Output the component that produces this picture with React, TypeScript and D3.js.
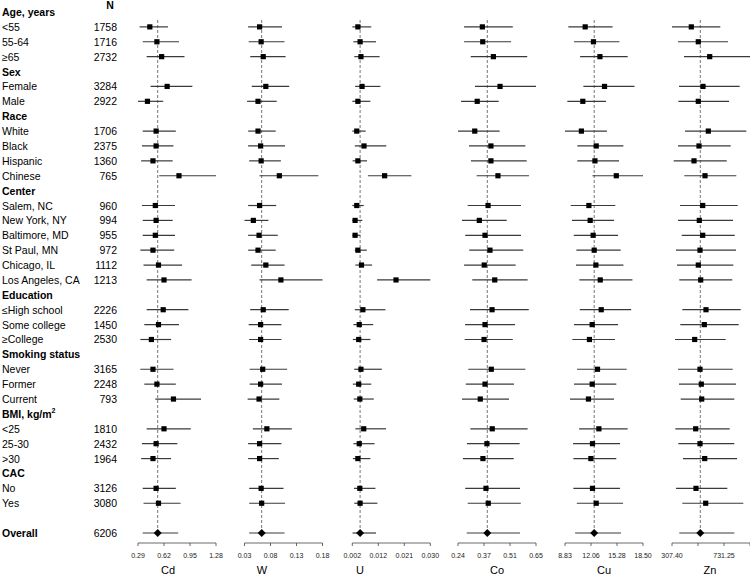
import React from "react";
import * as d3 from "d3";

// row labels, top to bottom ("" = spacer row)
const rowLabels = [
  "Age, years", "<55", "55-64", "≥65",
  "Sex", "Female", "Male",
  "Race", "White", "Black", "Hispanic", "Chinese",
  "Center", "Salem, NC", "New York, NY", "Baltimore, MD", "St Paul, MN", "Chicago, IL", "Los Angeles, CA",
  "Education", "≤High school", "Some college", "≥College",
  "Smoking status", "Never", "Former", "Current",
  "BMI, kg/m2", "<25", "25-30", ">30",
  "CAC", "No", "Yes",
  "", "Overall",
];

const headers = ["Age, years", "Sex", "Race", "Center", "Education", "Smoking status", "BMI, kg/m2", "CAC", "Overall"];

const counts = [
  null, 1758, 1716, 2732,
  null, 3284, 2922,
  null, 1706, 2375, 1360, 765,
  null, 960, 994, 955, 972, 1112, 1213,
  null, 2226, 1450, 2530,
  null, 3165, 2248, 793,
  null, 1810, 2432, 1964,
  null, 3126, 3080,
  null, 6206,
];

const metals = ["Cd", "W", "U", "Co", "Cu", "Zn"];

// estimate / lower / upper for the 26 subgroups, in row order
const cdEst = [0.44, 0.53, 0.59, 0.66, 0.41, 0.52, 0.52, 0.48, 0.81, 0.51, 0.52, 0.51, 0.48, 0.55, 0.62, 0.61, 0.55, 0.46, 0.48, 0.53, 0.74, 0.62, 0.52, 0.48, 0.52, 0.55];
const cdLo = [0.31, 0.35, 0.40, 0.45, 0.29, 0.35, 0.34, 0.33, 0.56, 0.34, 0.35, 0.35, 0.32, 0.36, 0.40, 0.40, 0.37, 0.32, 0.32, 0.37, 0.51, 0.40, 0.34, 0.33, 0.35, 0.36];
const cdHi = [0.67, 0.81, 0.88, 0.98, 0.61, 0.77, 0.74, 0.73, 1.28, 0.76, 0.73, 0.76, 0.75, 0.85, 0.97, 0.93, 0.81, 0.71, 0.74, 0.77, 1.09, 0.96, 0.79, 0.71, 0.77, 0.83];

const wEst = [0.059, 0.062, 0.066, 0.071, 0.056, 0.056, 0.061, 0.062, 0.097, 0.059, 0.047, 0.058, 0.056, 0.071, 0.100, 0.066, 0.061, 0.061, 0.065, 0.061, 0.058, 0.073, 0.059, 0.059, 0.062, 0.063];
const wLo = [0.037, 0.038, 0.041, 0.044, 0.035, 0.037, 0.037, 0.039, 0.059, 0.037, 0.030, 0.037, 0.037, 0.043, 0.059, 0.041, 0.038, 0.039, 0.040, 0.040, 0.036, 0.046, 0.037, 0.037, 0.039, 0.039];
const wHi = [0.102, 0.107, 0.109, 0.116, 0.092, 0.090, 0.108, 0.100, 0.172, 0.091, 0.076, 0.094, 0.090, 0.107, 0.180, 0.115, 0.101, 0.101, 0.112, 0.102, 0.097, 0.121, 0.101, 0.096, 0.105, 0.108];

const uEst = [0.0040, 0.0048, 0.0051, 0.0055, 0.0040, 0.0036, 0.0062, 0.0040, 0.0136, 0.0036, 0.0030, 0.0030, 0.0040, 0.0053, 0.0177, 0.0058, 0.0045, 0.0043, 0.0051, 0.0043, 0.0047, 0.0061, 0.0045, 0.0040, 0.0047, 0.0048];
const uLo = [0.0020, 0.0024, 0.0027, 0.0030, 0.0020, 0.0020, 0.0029, 0.0021, 0.0076, 0.0020, 0.0020, 0.0020, 0.0029, 0.0031, 0.0109, 0.0029, 0.0024, 0.0022, 0.0027, 0.0022, 0.0025, 0.0031, 0.0024, 0.0022, 0.0026, 0.0027];
const uHi = [0.0088, 0.0105, 0.0118, 0.0121, 0.0085, 0.0068, 0.0142, 0.0073, 0.0232, 0.0061, 0.0056, 0.0049, 0.0072, 0.0091, 0.0300, 0.0139, 0.0095, 0.0085, 0.0126, 0.0088, 0.0097, 0.0141, 0.0100, 0.0085, 0.0103, 0.0110];

const coEst = [0.368, 0.370, 0.426, 0.461, 0.341, 0.328, 0.413, 0.413, 0.450, 0.398, 0.352, 0.382, 0.408, 0.378, 0.433, 0.419, 0.382, 0.377, 0.415, 0.382, 0.357, 0.420, 0.392, 0.371, 0.387, 0.399];
const coLo = [0.272, 0.272, 0.307, 0.329, 0.256, 0.240, 0.298, 0.308, 0.338, 0.291, 0.261, 0.278, 0.299, 0.272, 0.315, 0.303, 0.277, 0.275, 0.294, 0.281, 0.261, 0.305, 0.287, 0.266, 0.278, 0.291];
const coHi = [0.528, 0.519, 0.604, 0.650, 0.454, 0.459, 0.594, 0.601, 0.613, 0.571, 0.496, 0.571, 0.583, 0.543, 0.606, 0.612, 0.540, 0.528, 0.594, 0.534, 0.508, 0.606, 0.564, 0.533, 0.566, 0.570];

const cuEst = [11.33, 12.36, 13.16, 13.73, 11.04, 10.86, 12.70, 12.54, 15.19, 11.79, 11.95, 12.32, 12.45, 12.66, 13.20, 13.32, 12.20, 11.86, 12.86, 12.20, 11.74, 13.03, 12.24, 12.04, 12.24, 12.70];
const cuLo = [9.24, 9.95, 10.70, 11.11, 9.12, 8.83, 10.36, 10.36, 12.24, 9.54, 9.70, 9.92, 10.24, 10.20, 10.61, 10.66, 9.95, 9.74, 10.33, 9.95, 9.45, 10.58, 9.83, 9.87, 9.87, 10.29];
const cuHi = [14.73, 15.57, 16.60, 17.44, 13.91, 14.03, 16.07, 15.53, 18.50, 15.07, 14.91, 15.41, 15.73, 16.07, 17.19, 17.03, 15.41, 15.03, 16.48, 15.19, 14.91, 16.60, 15.65, 15.19, 15.65, 16.03];

const znEst = [464.7, 521.8, 614.7, 560.1, 521.8, 603.3, 527.5, 486.7, 576.4, 557.6, 529.9, 557.6, 535.6, 521.8, 541.3, 584.5, 570.7, 492.4, 535.6, 546.2, 549.5, 500.6, 535.6, 573.9, 503.0, 582.1];
const znLo = [307.4, 356.3, 405.2, 364.5, 358.8, 413.4, 356.3, 321.3, 407.7, 372.6, 356.3, 386.5, 340.0, 348.2, 366.9, 391.4, 375.1, 331.9, 356.3, 364.5, 378.3, 334.3, 358.8, 397.1, 340.0, 391.4];
const znHi = [701.1, 763.9, 943.18, 859.2, 772.0, 913.0, 785.9, 753.3, 831.5, 842.9, 804.6, 818.5, 829.1, 807.0, 798.9, 867.4, 851.1, 745.1, 802.2, 829.1, 815.2, 777.7, 815.2, 837.2, 758.2, 888.6];

// overall: [estimate, lower, upper]
const overallCd = [0.54, 0.35, 0.80];
const overallW = [0.063, 0.039, 0.107];
const overallU = [0.0048, 0.0021, 0.0105];
const overallCo = [0.394, 0.286, 0.566];
const overallCu = [12.45, 10.08, 15.78];
const overallZn = [538.1, 366.9, 815.2];

// tick labels (4 equally spaced ticks from min lower to max upper)
const cdTicks = ["0.29", "0.62", "0.95", "1.28"];
const wTicks = ["0.03", "0.08", "0.13", "0.18"];
const uTicks = ["0.002", "0.012", "0.021", "0.030"];
const coTicks = ["0.24", "0.37", "0.51", "0.65"];
const cuTicks = ["8.83", "12.06", "15.28", "18.50"];
const znTicks = ["307.40", "", "731.25", ""];

const series = [
  { est: cdEst, lo: cdLo, hi: cdHi, overall: overallCd, ticks: cdTicks },
  { est: wEst, lo: wLo, hi: wHi, overall: overallW, ticks: wTicks },
  { est: uEst, lo: uLo, hi: uHi, overall: overallU, ticks: uTicks },
  { est: coEst, lo: coLo, hi: coHi, overall: overallCo, ticks: coTicks },
  { est: cuEst, lo: cuLo, hi: cuHi, overall: overallCu, ticks: cuTicks },
  { est: znEst, lo: znLo, hi: znHi, overall: overallZn, ticks: znTicks },
];

const W = 750;
const H = 576;
const panelLeft = [138, 244.5, 352.3, 458, 565, 672];
const panelWidth = 78;
const titleX = [168, 262, 360, 497, 604, 710];
const axisY = 543;
const font = "'Liberation Sans', Arial, Helvetica, sans-serif";

export default function App() {
  const y = d3.scaleLinear().domain([0, rowLabels.length - 1]).range([12, 12 + 35 * 14.886]);

  // row indices of subgroups (have N, not Overall)
  const subRows = rowLabels
    .map((l, i) => i)
    .filter((i) => counts[i] != null && rowLabels[i] !== "Overall");
  const overallRow = rowLabels.indexOf("Overall");

  return (
    <svg
      width={W}
      height={H}
      style={{ position: "absolute", left: 0, top: 0, background: "#fff" }}
      fontFamily={font}
    >
      <text x={110} y={9} fontSize={10.5} fontWeight="bold" textAnchor="middle">N</text>

      {rowLabels.map((lab, i) => {
        const bold = headers.includes(lab);
        if (lab === "BMI, kg/m2") {
          return (
            <text key={i} x={2} y={y(i)} fontSize={10.5} fontWeight="bold" dominantBaseline="central">
              BMI, kg/m<tspan fontSize={7} dy={-4}>2</tspan>
            </text>
          );
        }
        return (
          <text key={i} x={2} y={y(i)} fontSize={10.5} fontWeight={bold ? "bold" : "normal"} dominantBaseline="central">
            {lab}
          </text>
        );
      })}

      {counts.map((n, i) =>
        n == null ? null : (
          <text key={"n" + i} x={117} y={y(i)} fontSize={10.5} textAnchor="end" dominantBaseline="central">
            {n}
          </text>
        )
      )}

      {series.map((s, k) => {
        const minV = d3.min(s.lo) as number;
        const maxV = d3.max(s.hi) as number;
        const x = d3.scaleLinear().domain([minV, maxV]).range([panelLeft[k], panelLeft[k] + panelWidth]);
        const tickVals = d3.range(4).map((t) => minV + (t * (maxV - minV)) / 3);
        const [oe, ol, oh] = s.overall;
        const oy = y(overallRow);
        return (
          <g key={metals[k]}>
            <line x1={x(oe)} x2={x(oe)} y1={20} y2={oy} stroke="#666" strokeWidth={0.9} strokeDasharray="3,2" />
            {subRows.map((r, j) => (
              <g key={r}>
                <line x1={x(s.lo[j])} x2={x(s.hi[j])} y1={y(r)} y2={y(r)} stroke="#3a3a3a" strokeWidth={1.2} />
                <rect x={x(s.est[j]) - 2.6} y={y(r) - 2.6} width={5.2} height={5.2} fill="#000" />
              </g>
            ))}
            <line x1={x(ol)} x2={x(oh)} y1={oy} y2={oy} stroke="#3a3a3a" strokeWidth={1.2} />
            <path
              d={`M${x(oe) - 4},${oy} L${x(oe)},${oy - 4} L${x(oe) + 4},${oy} L${x(oe)},${oy + 4} Z`}
              fill="#000"
            />
            <line x1={x(minV)} x2={x(maxV)} y1={axisY} y2={axisY} stroke="#444" strokeWidth={0.8} />
            {tickVals.map((tv, t) => (
              <g key={t}>
                <line x1={x(tv)} x2={x(tv)} y1={axisY} y2={axisY + 3} stroke="#444" strokeWidth={0.8} />
                <text x={x(tv)} y={axisY + 12} fontSize={7} textAnchor="middle" dominantBaseline="central" fill="#222">
                  {s.ticks[t]}
                </text>
              </g>
            ))}
            <text x={titleX[k]} y={574} fontSize={11} textAnchor="middle">
              {metals[k]}
            </text>
          </g>
        );
      })}
    </svg>
  );
}
